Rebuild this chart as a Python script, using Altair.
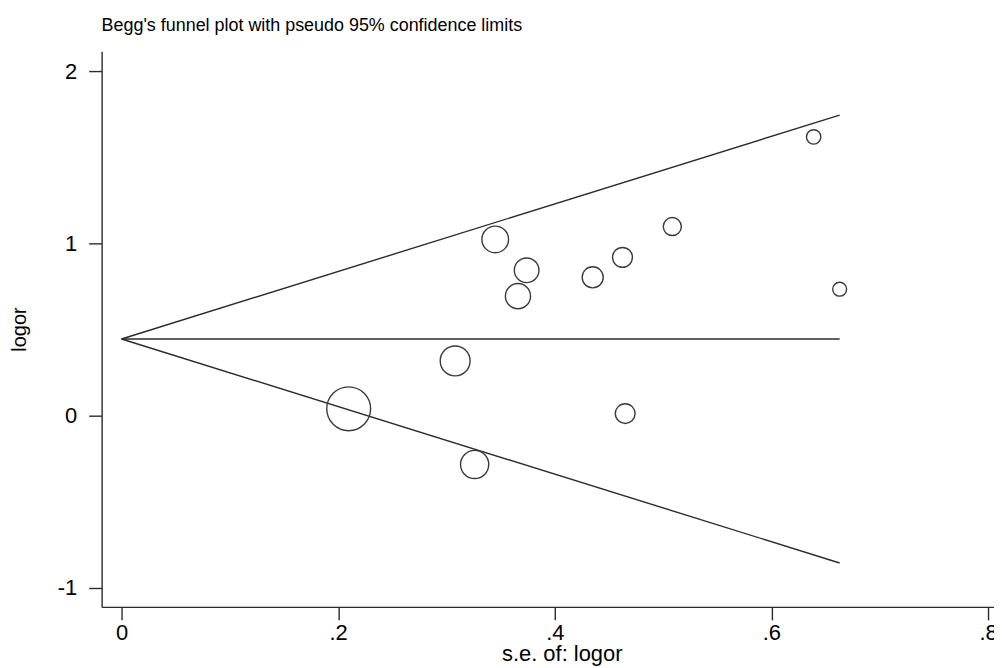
import altair as alt
import pandas as pd

# Study estimates
se = [0.2097, 0.308, 0.326, 0.345, 0.374, 0.366, 0.435, 0.4625, 0.465, 0.5085, 0.639, 0.663]
logor = [0.040, 0.318, -0.283, 1.023, 0.844, 0.694, 0.803, 0.919, 0.012, 1.098, 1.618, 0.734]

# Funnel (pseudo 95% limits) end points
limit_se = [0.0, 0.663]
upper = [0.445, 1.745]
lower = [0.445, -0.855]
center = [0.445, 0.445]

x_ticks = [0, 0.2, 0.4, 0.6, 0.8]
y_ticks = [-1, 0, 1, 2]

FONT = "Liberation Sans"
INK = "#2b2b2b"

pts = pd.DataFrame({"se": se, "logor": logor})
pts["w"] = 1.0 / pts["se"] ** 2

rows = []
for name, ys in (("upper", upper), ("lower", lower), ("center", center)):
    for i, (xv, yv) in enumerate(zip(limit_se, ys)):
        rows.append({"line": name, "se": xv, "logor": yv, "o": i})
lines = pd.DataFrame(rows)

xscale = alt.Scale(domain=[-0.0184, 0.8055], nice=False, zero=False)
yscale = alt.Scale(domain=[-1.11, 2.116], nice=False, zero=False)

xaxis = alt.Axis(
    values=x_ticks,
    labelExpr="datum.value == 0 ? '0' : replace(format(datum.value, '.1f'), '0.', '.')",
    title="s.e. of: logor",
    tickSize=13,
    labelPadding=3,
    labelFontSize=22,
    titleFontSize=22,
    titleFontWeight="normal",
    titleX=462,
    titleY=54,
    titleBaseline="alphabetic",
    grid=False,
)
yaxis = alt.Axis(
    values=y_ticks,
    labelExpr="toString(datum.value)",
    title="logor",
    tickSize=13,
    labelPadding=12,
    labelFontSize=22,
    titleFontSize=20,
    titleFontWeight="normal",
    titleX=-82,
    titleY=279,
    titleBaseline="middle",
    grid=False,
)

line_layer = alt.Chart(lines).mark_line(color=INK, strokeWidth=1.4).encode(
    x=alt.X("se:Q", scale=xscale, axis=xaxis),
    y=alt.Y("logor:Q", scale=yscale, axis=yaxis),
    detail="line:N",
    order="o:Q",
)

point_layer = alt.Chart(pts).mark_point(
    shape="circle", filled=False, color="#3a3a3a", strokeWidth=1.4, opacity=1
).encode(
    x=alt.X("se:Q", scale=xscale),
    y=alt.Y("logor:Q", scale=yscale),
    size=alt.Size("w:Q", scale=alt.Scale(type="linear", domain=[0, 25], range=[0, 2130]), legend=None),
)

chart = (
    alt.layer(line_layer, point_layer)
    .properties(
        width=896,
        height=558,
        title=alt.TitleParams(
            "Begg's funnel plot with pseudo 95% confidence limits",
            anchor="start",
            frame="group",
            fontSize=18,
            font=FONT,
            fontWeight="normal",
            color="black",
            offset=16,
        ),
        padding={"left": 94, "top": 42, "right": 0, "bottom": 58},
        autosize=alt.AutoSizeParams(type="none"),
        background="white",
    )
    .configure_view(stroke=None)
    .configure_axis(
        labelFont=FONT,
        titleFont=FONT,
        labelColor="black",
        titleColor="black",
        domainColor=INK,
        tickColor=INK,
        domainWidth=1.4,
        tickWidth=1.4,
    )
)

chart.save("out.html", embed_options={"renderer": "svg", "actions": False})
